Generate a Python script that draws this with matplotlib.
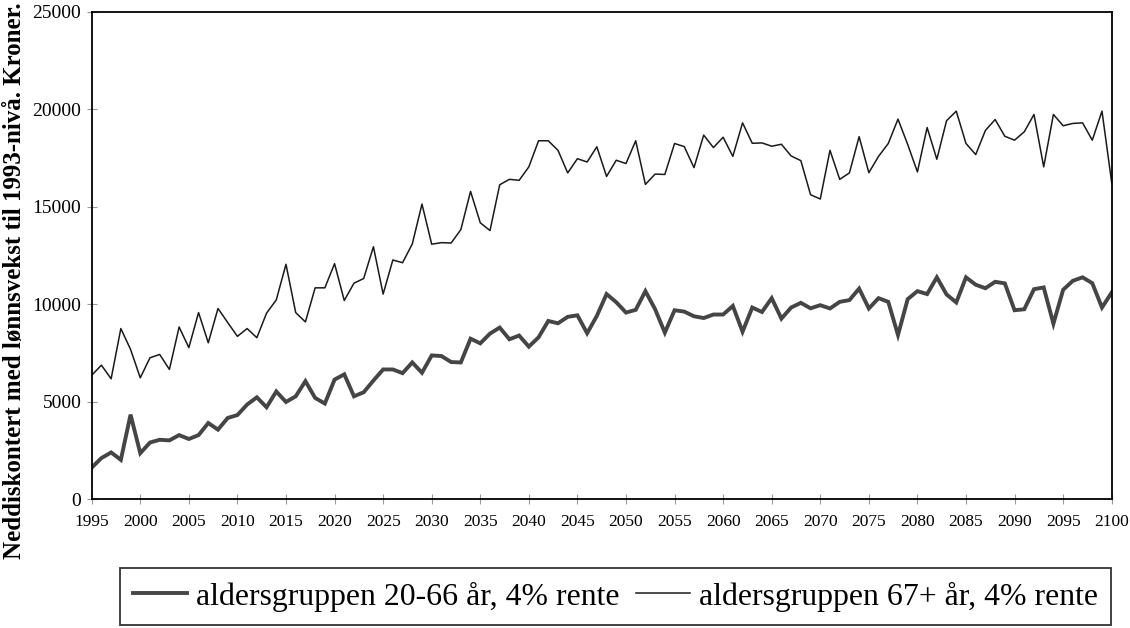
import numpy as np
import matplotlib
matplotlib.use("Agg")
import matplotlib.pyplot as plt

plt.rcParams['font.family'] = ['Liberation Serif', 'DejaVu Serif']

years = np.arange(1995, 2101)

# Neddiskontert, kroner (lest av figuren)
gruppe_20_66 = [
    1610, 2100, 2390, 2010, 4330, 2350, 2900, 3040, 3010, 3280,
    3080, 3280, 3900, 3560, 4160, 4310, 4850, 5220, 4710, 5520,
    4980, 5270, 6050, 5190, 4900, 6130, 6400, 5270, 5480, 6080,
    6650, 6650, 6460, 7010, 6480, 7370, 7340, 7030, 7010, 8230,
    7990, 8490, 8800, 8200, 8390, 7820, 8300, 9140, 9020, 9350,
    9430, 8510, 9400, 10520, 10100, 9570, 9710, 10670, 9740, 8540,
    9690, 9620, 9380, 9290, 9470, 9470, 9910, 8590, 9830, 9600,
    10310, 9260, 9830, 10070, 9790, 9950, 9780, 10120, 10210, 10800,
    9780, 10310, 10120, 8420, 10260, 10670, 10520, 11380, 10500, 10090,
    11380, 11000, 10820, 11150, 11070, 9690, 9740, 10770, 10860, 9000,
    10740, 11200, 11380, 11080, 9830, 10600,
]
gruppe_67 = [
    6350, 6870, 6170, 8750, 7680, 6220, 7250, 7420, 6650, 8830,
    7770, 9570, 8020, 9780, 9060, 8350, 8750, 8280, 9540, 10220,
    12050, 9570, 9090, 10840, 10840, 12080, 10190, 11080, 11320, 12950,
    10520, 12270, 12130, 13090, 15140, 13080, 13160, 13140, 13830, 15790,
    14180, 13780, 16130, 16410, 16360, 17050, 18390, 18390, 17900, 16740,
    17470, 17300, 18080, 16560, 17390, 17220, 18390, 16150, 16680, 16660,
    18250, 18090, 17010, 18680, 18040, 18570, 17590, 19310, 18260, 18280,
    18110, 18210, 17610, 17370, 15620, 15400, 17900, 16410, 16740, 18600,
    16750, 17590, 18250, 19500, 18200, 16790, 19070, 17440, 19420, 19910,
    18250, 17680, 18920, 19480, 18620, 18420, 18850, 19740, 17050, 19740,
    19160, 19280, 19310, 18420, 19910, 16240,
]
labels = ['aldersgruppen 20-66 år, 4% rente', 'aldersgruppen 67+ år, 4% rente']

fig = plt.figure(figsize=(11.3, 6.28), dpi=100)
ax = fig.add_axes([91.7 / 1130, 1 - 499 / 628, (1111.7 - 91.7) / 1130, (499 - 12) / 628])

ax.plot(years, gruppe_20_66, color='#454545', lw=2.8, label=labels[0], solid_joinstyle='miter')
ax.plot(years, gruppe_67, color='#1a1a1a', lw=1.1, label=labels[1])

ax.set_xlim(1995, 2100)
ax.set_ylim(0, 25000)
ax.set_xticks(np.arange(1995, 2101, 5))
ax.set_yticks(np.arange(0, 25001, 5000))
ax.tick_params(direction='inout', length=7, width=0.8, color='#999999', pad=4)
ax.tick_params(axis='x', labelsize=12.5, pad=7)
ax.tick_params(axis='y', labelsize=14)
for s in ax.spines.values():
    s.set_linewidth(1.3)
    s.set_color('black')

fig.text(15 / 1130, 1 - 281 / 628, 'Neddiskontert med lønnsvekst til 1993-nivå. Kroner.',
         rotation=90, ha='center', va='center', fontsize=18, fontweight='bold')

leg = fig.legend(loc='center', bbox_to_anchor=(615.5 / 1130, 1 - 596.5 / 628),
                 ncol=2, fontsize=22.9, frameon=True, fancybox=False,
                 handlelength=1.7, handletextpad=0.28, columnspacing=0.5,
                 borderpad=0.43, borderaxespad=0)
leg.get_frame().set_edgecolor('black')
leg.get_frame().set_linewidth(1.3)

fig.savefig('out.png', dpi=100)
